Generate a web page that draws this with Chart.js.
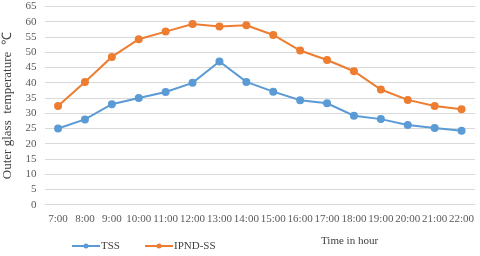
<!DOCTYPE html>
<html>
<head>
<meta charset="utf-8">
<script src="https://cdn.jsdelivr.net/npm/chart.js@4"></script>
<style>
  html, body { margin: 0; padding: 0; background: #fff; }
  #wrap { width: 480px; height: 256px; overflow: hidden; }
  /* pull the canvas up a bit so the top gridline sits close to the edge */
  #tempChart { display: block; margin-top: -8px; }
</style>
</head>
<body>
<div id="wrap"><canvas id="tempChart" width="480" height="264"></canvas></div>
<script>
const hours = ['7:00', '8:00', '9:00', '10:00', '11:00', '12:00', '13:00', '14:00',
  '15:00', '16:00', '17:00', '18:00', '19:00', '20:00', '21:00', '22:00'];
const tss = [25, 28, 33, 35, 37, 40, 47, 40.3, 37.1, 34.3, 33.3, 29.2, 28.1, 26.2, 25.2, 24.3];
const ipndSS = [32.4, 40.3, 48.5, 54.3, 56.8, 59.3, 58.5, 58.9, 55.7, 50.6, 47.5, 43.8, 37.8, 34.4, 32.4, 31.3];
const yTicks = [0, 5, 10, 15, 20, 25, 30, 35, 40, 45, 50, 55, 60, 65];

const serif = '"Liberation Serif", "Times New Roman", serif';

// legend + x title drawn by hand, the layout is Excel-like
const extras = {
  id: 'extras',
  afterDraw(chart) {
    const c = chart.ctx;
    c.save();
    c.font = '11px ' + serif;
    c.fillStyle = '#404040';
    c.textBaseline = 'middle';
    c.fillText('Time in hour', 321, 249);

    const items = [
      { label: 'TSS', x: 72, color: '#5B9BD5' },
      { label: 'IPND-SS', x: 145, color: '#ED7D31' }
    ];
    const y = 254;
    items.forEach(it => {
      c.strokeStyle = it.color;
      c.lineWidth = 2;
      c.beginPath();
      c.moveTo(it.x, y);
      c.lineTo(it.x + 28, y);
      c.stroke();
      c.fillStyle = it.color;
      c.beginPath();
      c.arc(it.x + 14, y, 2.5, 0, Math.PI * 2);
      c.fill();
      c.fillStyle = '#404040';
      c.fillText(it.label, it.x + 29, y);
    });
    c.restore();
  }
};

const ctx = document.getElementById('tempChart').getContext('2d');
new Chart(ctx, {
  type: 'line',
  data: {
    labels: hours,
    datasets: [
      {
        label: 'TSS',
        data: tss,
        borderColor: '#5B9BD5',
        backgroundColor: '#5B9BD5',
        borderWidth: 2,
        pointRadius: 3,
        pointHoverRadius: 3,
        tension: 0
      },
      {
        label: 'IPND-SS',
        data: ipndSS,
        borderColor: '#ED7D31',
        backgroundColor: '#ED7D31',
        borderWidth: 2,
        pointRadius: 3,
        pointHoverRadius: 3,
        tension: 0
      }
    ]
  },
  options: {
    responsive: false,
    animation: false,
    layout: { padding: { left: 0, right: 3, top: 0, bottom: 30 } },
    plugins: {
      legend: { display: false },
      tooltip: { enabled: false }
    },
    scales: {
      x: {
        offset: true,
        grid: { display: false },
        border: { display: false },
        ticks: { color: '#595959', font: { family: serif, size: 11 }, maxRotation: 0, autoSkip: false, padding: 0 }
      },
      y: {
        min: 0,
        max: 65,
        afterBuildTicks: axis => { axis.ticks = yTicks.map(v => ({ value: v })); },
        grid: { color: '#d9d9d9', lineWidth: 1, drawTicks: false },
        border: { display: false },
        ticks: { color: '#595959', font: { family: serif, size: 11 }, padding: 8, autoSkip: false },
        title: {
          display: true,
          text: 'Outer glass  temperature  \u2103',
          color: '#404040',
          font: { family: serif, size: 13 },
          padding: { top: 0, bottom: 2 }
        }
      }
    }
  },
  plugins: [extras]
});
</script>
</body>
</html>
